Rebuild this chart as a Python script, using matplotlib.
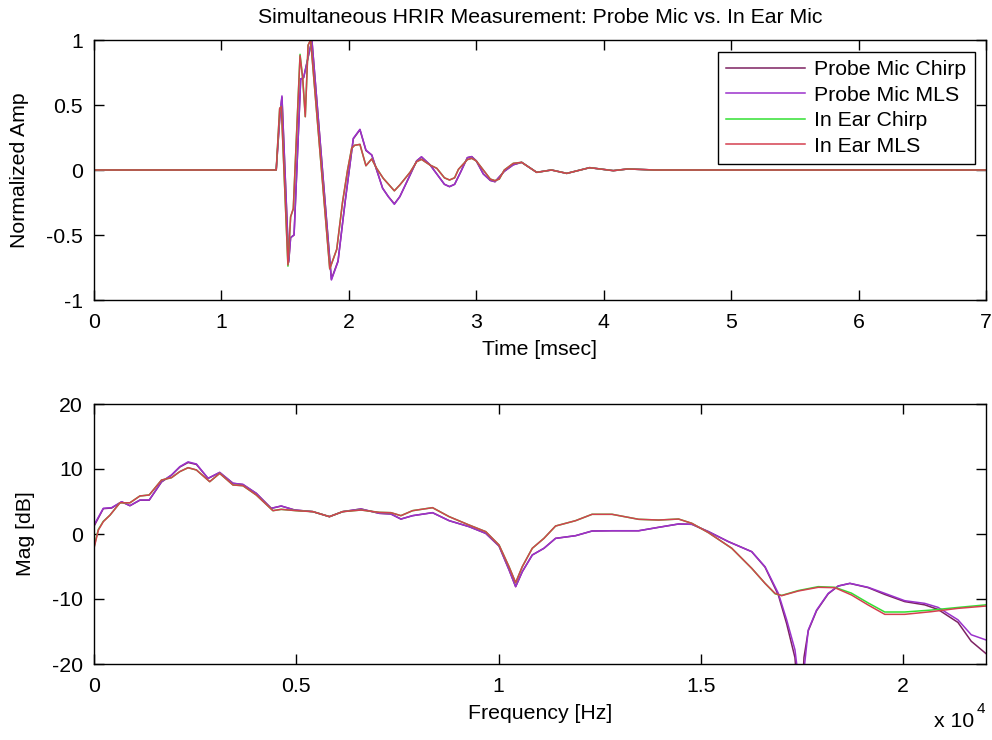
import matplotlib
matplotlib.use("Agg")
import matplotlib.pyplot as plt
from matplotlib.ticker import FixedLocator, FuncFormatter

plt.rcParams['font.family'] = ['Liberation Sans', 'DejaVu Sans']
plt.rcParams['axes.unicode_minus'] = False

# ---- time-domain impulse responses (normalized) ----
t_probe = [0.0, 1.43, 1.46, 1.475, 1.528, 1.543, 1.57, 1.622, 1.645, 1.71,
           1.863, 1.915, 1.97, 2.035, 2.087, 2.134, 2.18, 2.265, 2.31, 2.357,
           2.40, 2.48, 2.532, 2.57, 2.637, 2.75, 2.79, 2.83, 2.88, 2.93,
           2.964, 3.0, 3.055, 3.11, 3.147, 3.22, 3.29, 3.356, 3.474, 3.59,
           3.71, 3.89, 4.075, 4.19, 4.4, 7.0]
probe_chirp_amp = [0.0, 0.0, 0.43, 0.56, -0.71, -0.52, -0.50, 0.70, 0.71, 1.0,
                   -0.84, -0.70, -0.25, 0.24, 0.31, 0.15, 0.115, -0.14, -0.205, -0.26,
                   -0.205, -0.04, 0.07, 0.10, 0.04, -0.11, -0.128, -0.11, -0.01, 0.095,
                   0.103, 0.07, -0.03, -0.08, -0.09, -0.01, 0.04, 0.059, -0.018, 0.0,
                   -0.026, 0.018, -0.005, 0.008, 0.0, 0.0]
probe_mls_amp = [0.0, 0.0, 0.44, 0.57, -0.70, -0.52, -0.50, 0.70, 0.71, 1.0,
                 -0.846, -0.705, -0.25, 0.244, 0.313, 0.154, 0.115, -0.141, -0.205, -0.264,
                 -0.205, -0.038, 0.07, 0.102, 0.04, -0.11, -0.128, -0.11, -0.01, 0.095,
                 0.103, 0.07, -0.03, -0.08, -0.09, -0.01, 0.04, 0.059, -0.018, 0.0,
                 -0.026, 0.018, -0.005, 0.008, 0.0, 0.0]

t_ear = [0.0, 1.43, 1.457, 1.47, 1.522, 1.543, 1.564, 1.617, 1.638, 1.658,
         1.68, 1.70, 1.85, 1.905, 1.95, 1.99, 2.022, 2.045, 2.087, 2.134,
         2.179, 2.218, 2.27, 2.357, 2.40, 2.48, 2.532, 2.57, 2.637, 2.69,
         2.75, 2.79, 2.83, 2.86, 2.93, 2.964, 3.0, 3.055, 3.11, 3.147,
         3.18, 3.22, 3.29, 3.356, 3.474, 3.59, 3.71, 3.89, 4.075, 4.19,
         4.4, 7.0]
ear_chirp_amp = [0.0, 0.0, 0.47, 0.49, -0.74, -0.36, -0.30, 0.89, 0.70, 0.41,
                 0.96, 1.0, -0.76, -0.61, -0.25, 0.0, 0.167, 0.19, 0.197, 0.033,
                 0.085, 0.013, -0.064, -0.16, -0.115, -0.018, 0.064, 0.082, 0.038, 0.013,
                 -0.06, -0.077, -0.06, 0.005, 0.08, 0.09, 0.07, 0.0, -0.07, -0.082,
                 -0.07, 0.0, 0.051, 0.059, -0.018, 0.0, -0.026, 0.018, -0.005, 0.008,
                 0.0, 0.0]
ear_mls_amp = [0.0, 0.0, 0.475, 0.487, -0.73, -0.36, -0.295, 0.88, 0.705, 0.41,
               0.96, 1.0, -0.76, -0.61, -0.25, 0.0, 0.167, 0.19, 0.197, 0.033,
               0.085, 0.013, -0.064, -0.16, -0.115, -0.018, 0.064, 0.082, 0.038, 0.013,
               -0.06, -0.077, -0.06, 0.005, 0.08, 0.09, 0.07, 0.0, -0.07, -0.082,
               -0.07, 0.0, 0.051, 0.059, -0.018, 0.0, -0.026, 0.018, -0.005, 0.008,
               0.0, 0.0]

# ---- magnitude responses (dB) ----
f_probe = [0, 230, 436, 683, 888, 1134, 1364, 1669, 1916, 2121,
           2326, 2532, 2819, 3107, 3436, 3682, 4012, 4382, 4628, 4957,
           5409, 5820, 6148, 6601, 7053, 7340, 7587, 7875, 8368, 8779,
           9272, 9684, 10012, 10259, 10423, 10587, 10834, 11122, 11410, 11904,
           12312, 12806, 13464, 13958, 14451, 14780, 15191, 15684, 16259, 16588,
           16917, 17122, 17327, 17390, 17470, 17550, 17656, 17862, 18150, 18397,
           18685, 19136, 19548, 20041, 20534, 20863, 21356, 21685, 22050]
probe_chirp_db = [1.2, 3.9, 4.0, 4.95, 4.35, 5.2, 5.2, 8.0, 9.05, 10.3,
                  11.0, 10.7, 8.55, 9.45, 7.8, 7.6, 6.25, 3.95, 4.3, 3.7,
                  3.44, 2.67, 3.44, 3.85, 3.18, 3.08, 2.3, 2.82, 3.28, 2.05,
                  1.13, 0.1, -1.85, -5.5, -8.1, -5.8, -3.23, -2.2, -0.67, -0.26,
                  0.46, 0.5, 0.5, 1.03, 1.54, 1.49, 0.36, -1.18, -2.72, -5.1,
                  -9.4, -13.8, -19.0, -24.0, -30.0, -19.0, -14.9, -11.8, -9.2, -8.0,
                  -7.6, -8.25, -9.3, -10.4, -10.9, -11.6, -13.6, -16.5, -18.4]
probe_mls_db = [1.38, 3.95, 4.05, 4.97, 4.36, 5.23, 5.23, 8.05, 9.08, 10.36,
                11.1, 10.77, 8.56, 9.49, 7.8, 7.64, 6.26, 3.95, 4.31, 3.69,
                3.44, 2.67, 3.44, 3.85, 3.18, 3.08, 2.3, 2.82, 3.28, 2.05,
                1.13, 0.1, -1.85, -5.5, -8.1, -5.8, -3.23, -2.2, -0.67, -0.26,
                0.46, 0.5, 0.5, 1.03, 1.54, 1.49, 0.36, -1.18, -2.72, -5.03,
                -9.13, -13.2, -17.8, -21.0, -32.0, -21.0, -14.77, -11.7, -9.13, -8.0,
                -7.59, -8.2, -9.13, -10.26, -10.67, -11.28, -13.2, -15.5, -16.3]

f_ear = [0, 107, 230, 395, 641, 888, 1134, 1364, 1669, 1916,
         2121, 2326, 2532, 2861, 3107, 3436, 3682, 4012, 4423, 4628,
         5000, 5409, 5820, 6148, 6601, 7053, 7340, 7587, 7875, 8368,
         8779, 9272, 9684, 10012, 10259, 10423, 10587, 10834, 11122, 11410,
         11904, 12312, 12806, 13464, 13958, 14451, 14780, 15191, 15766, 16259,
         16588, 16835, 16999, 17410, 17903, 18314, 18725, 19136, 19548, 20041,
         20698, 21356, 22050]
ear_chirp_db = [-2.0, 0.7, 1.95, 2.9, 4.8, 4.8, 5.85, 6.0, 8.3, 8.67,
                9.6, 10.2, 9.85, 8.05, 9.33, 7.54, 7.43, 6.0, 3.59, 3.79,
                3.59, 3.44, 2.67, 3.44, 3.69, 3.33, 3.28, 2.82, 3.59, 4.05,
                2.67, 1.38, 0.36, -1.69, -5.03, -7.49, -5.03, -2.2, -0.67, 1.23,
                2.05, 3.03, 3.03, 2.26, 2.15, 2.3, 1.64, 0.2, -2.2, -5.28,
                -7.59, -9.2, -9.45, -8.7, -8.1, -8.2, -9.1, -10.6, -12.0, -12.0,
                -11.7, -11.3, -10.9]
ear_mls_db = [-2.2, 0.6, 1.9, 2.9, 4.8, 4.8, 5.85, 6.0, 8.3, 8.67,
              9.6, 10.2, 9.85, 8.05, 9.33, 7.54, 7.43, 6.0, 3.59, 3.79,
              3.59, 3.44, 2.67, 3.44, 3.69, 3.33, 3.28, 2.82, 3.59, 4.05,
              2.67, 1.38, 0.36, -1.69, -5.03, -7.49, -5.03, -2.2, -0.67, 1.23,
              2.05, 3.03, 3.03, 2.26, 2.15, 2.3, 1.64, 0.2, -2.2, -5.28,
              -7.59, -9.13, -9.49, -8.77, -8.2, -8.26, -9.38, -10.92, -12.36, -12.36,
              -11.95, -11.44, -11.08]

labels = ["Probe Mic Chirp", "Probe Mic MLS", "In Ear Chirp", "In Ear MLS"]
colors = ["#7d2262", "#9b32cc", "#33e033", "#d4404f"]

time_ticks = [0, 1, 2, 3, 4, 5, 6, 7]
amp_ticks = [-1, -0.5, 0, 0.5, 1]
freq_ticks = [0, 5000, 10000, 15000, 20000]
db_ticks = [-20, -10, 0, 10, 20]

FS = 15.3
LW = 1.1

fig = plt.figure(figsize=(9.92, 7.4), dpi=100)
ax1 = fig.add_axes([94 / 992, 1 - 300 / 740, 892 / 992, 260 / 740])
ax2 = fig.add_axes([94 / 992, 1 - 664 / 740, 892 / 992, 260 / 740])

ax1.plot(t_probe, probe_chirp_amp, color=colors[0], lw=LW, label=labels[0])
ax1.plot(t_probe, probe_mls_amp, color=colors[1], lw=LW, label=labels[1])
ax1.plot(t_ear, ear_chirp_amp, color=colors[2], lw=LW, label=labels[2])
ax1.plot(t_ear, ear_mls_amp, color=colors[3], lw=LW, label=labels[3])

ax2.plot(f_probe, probe_chirp_db, color=colors[0], lw=LW)
ax2.plot(f_probe, probe_mls_db, color=colors[1], lw=LW)
ax2.plot(f_ear, ear_chirp_db, color=colors[2], lw=LW)
ax2.plot(f_ear, ear_mls_db, color=colors[3], lw=LW)

ax1.set_xlim(0, 7)
ax1.set_ylim(-1, 1)
ax1.xaxis.set_major_locator(FixedLocator(time_ticks))
ax1.yaxis.set_major_locator(FixedLocator(amp_ticks))
ax1.yaxis.set_major_formatter(FuncFormatter(lambda v, p: "%g" % v))
ax1.set_xlabel("Time [msec]", fontsize=FS, labelpad=6)
ax1.set_ylabel("Normalized Amp", fontsize=FS, labelpad=12)
ax1.set_title("Simultaneous HRIR Measurement: Probe Mic vs. In Ear Mic",
              fontsize=FS, pad=12)

ax2.set_xlim(0, 22050)
ax2.set_ylim(-20, 20)
ax2.xaxis.set_major_locator(FixedLocator(freq_ticks))
ax2.xaxis.set_major_formatter(FuncFormatter(lambda v, p: "%g" % (v / 1e4)))
ax2.yaxis.set_major_locator(FixedLocator(db_ticks))
ax2.set_xlabel("Frequency [Hz]", fontsize=FS, labelpad=6)
ax2.set_ylabel("Mag [dB]", fontsize=FS, labelpad=12)

for ax in (ax1, ax2):
    ax.tick_params(direction="in", length=7, width=1, top=True, right=True,
                   labelsize=FS, color="black")
    ax.tick_params(axis="x", pad=9)
    ax.tick_params(axis="y", pad=8)
    for sp in ax.spines.values():
        sp.set_linewidth(1.0)

leg = ax1.legend(loc="upper right", bbox_to_anchor=(0.9877, 0.954),
                 borderaxespad=0, fontsize=FS, fancybox=False, framealpha=1,
                 edgecolor="black", handlelength=3.7, handletextpad=0.45,
                 labelspacing=0.3, borderpad=0.4)
leg.get_frame().set_linewidth(1.0)

# exponent for the frequency axis
fig.text(974 / 992, 1 - 727 / 740, "x 10", fontsize=FS, ha="right", va="baseline")
fig.text(977 / 992, 1 - 713 / 740, "4", fontsize=FS * 0.72, ha="left", va="baseline")

fig.savefig("out.png", dpi=100)
